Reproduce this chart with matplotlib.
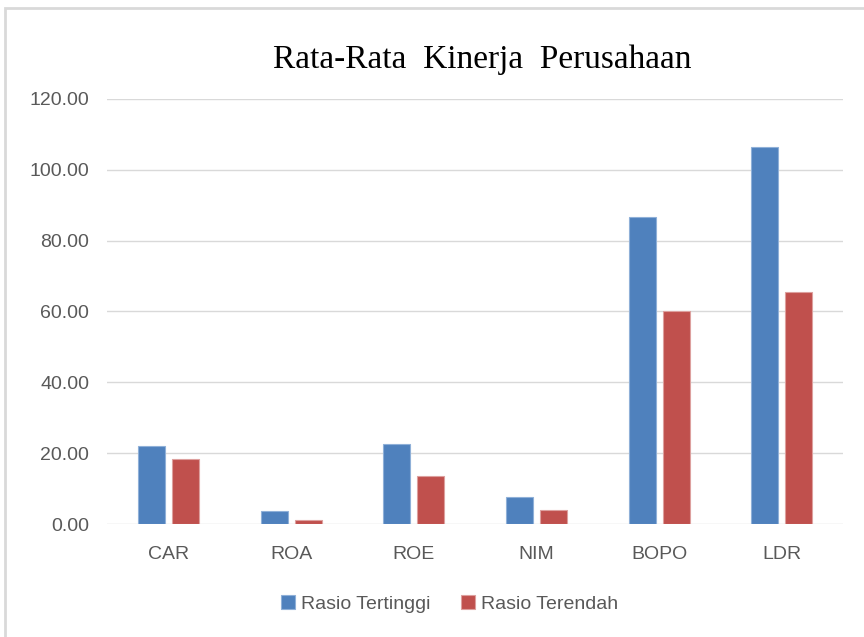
import numpy as np
import matplotlib
matplotlib.use("Agg")
import matplotlib.pyplot as plt
from matplotlib.patches import Rectangle

# data
categories = ["CAR", "ROA", "ROE", "NIM", "BOPO", "LDR"]
rasio_tertinggi = [22.1, 3.8, 22.5, 7.7, 86.7, 106.4]
rasio_terendah = [18.4, 1.1, 13.6, 4.1, 60.1, 65.5]
yticks = [0, 20, 40, 60, 80, 100, 120]

plt.rcParams['font.family'] = ['Liberation Sans', 'DejaVu Sans']

fig = plt.figure(figsize=(8.64, 6.37), dpi=100)
ax = fig.add_axes([0.124, 0.177, 0.852, 0.668])

# gray frame of the screenshot (top and left edges)
fig.patches.append(Rectangle((0.006, -0.01), 1.2, 0.997, transform=fig.transFigure,
                             fill=False, edgecolor="#D9D9D9", linewidth=2))

x = np.arange(len(categories))
w = 0.22
off = 0.139
ax.bar(x - off, rasio_tertinggi, w, color="#4F81BD", edgecolor="#8FB0D8", linewidth=0.8,
       label="Rasio Tertinggi", zorder=3)
ax.bar(x + off, rasio_terendah, w, color="#C0504D", edgecolor="#DDA09E", linewidth=0.8,
       label="Rasio Terendah", zorder=3)

ax.set_xlim(-0.5, len(categories) - 0.5)
ax.set_ylim(0, 120)
ax.set_yticks(yticks)
ax.set_yticklabels([f"{v:.2f}" for v in yticks])
ax.set_xticks(x)
ax.set_xticklabels(categories)
ax.tick_params(axis="both", length=0, labelsize=14, labelcolor="#595959")
ax.tick_params(axis="y", pad=13)
ax.tick_params(axis="x", pad=16)
ax.grid(axis="y", color="#D9D9D9", linewidth=1, zorder=0)
for s in ax.spines.values():
    s.set_visible(False)

fig.text(0.558, 0.906, "Rata-Rata  Kinerja  Perusahaan", ha="center", va="center",
         fontsize=24, family="Liberation Serif", color="black")

ax.legend(loc="upper center", bbox_to_anchor=(0.465, -0.125), ncol=2, frameon=False,
          fontsize=14, labelcolor="#595959", handlelength=0.7, handleheight=0.7,
          handletextpad=0.3, columnspacing=1.6)

fig.savefig("out.png", dpi=100)
